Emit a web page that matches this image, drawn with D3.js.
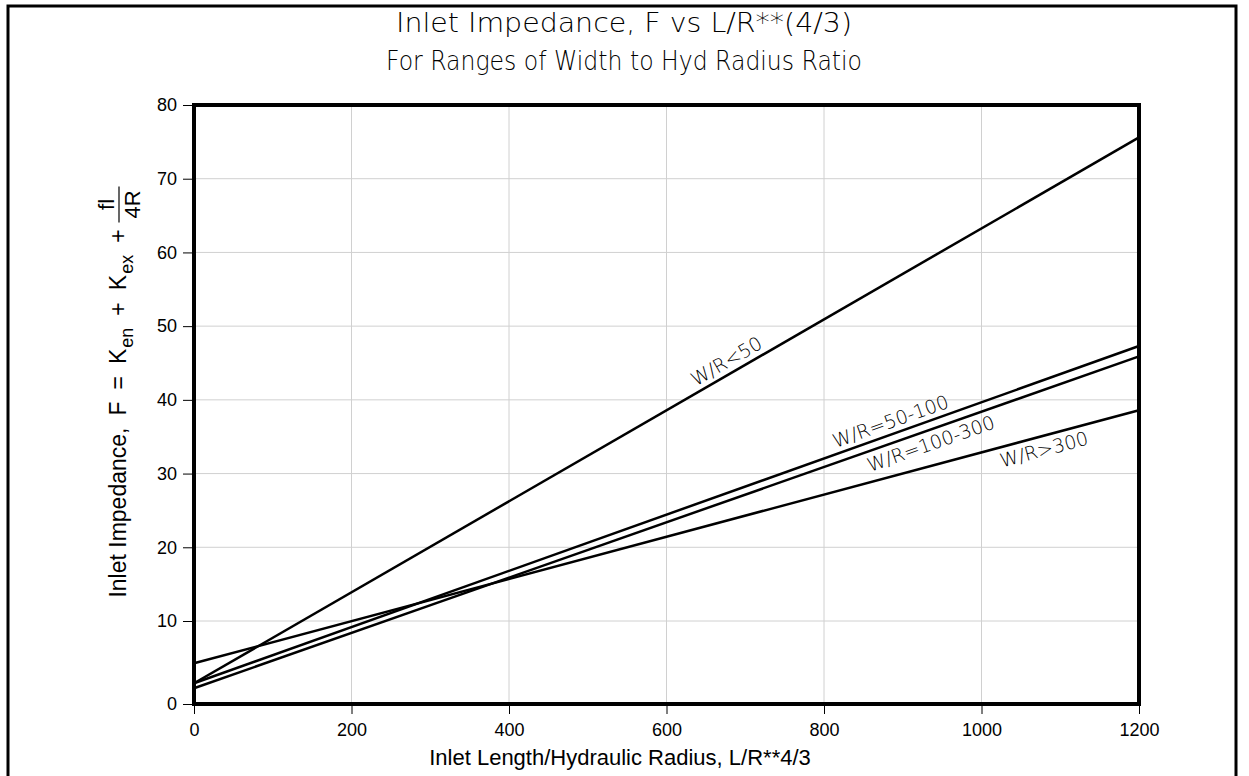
<!DOCTYPE html>
<html>
<head>
<meta charset="utf-8">
<script src="https://cdn.jsdelivr.net/npm/d3@7"></script>
<style>
  body { margin: 0; background: #fff; }
  svg { display: block; }
  text { font-family: "Liberation Sans", Arial, sans-serif; fill: #000; }
  .thin { font-family: "DejaVu Sans", "Liberation Sans", sans-serif; font-weight: 200; }
</style>
</head>
<body>
<svg id="chart" width="1249" height="776"></svg>
<script>
// Axis ticks
const xTicks = [0, 200, 400, 600, 800, 1000, 1200];
const yTicks = [0, 10, 20, 30, 40, 50, 60, 70, 80];

// Inlet length / hydraulic radius at the two ends of each straight line
const lengthRatio = [0, 1200];

// Inlet impedance F for each width-to-hydraulic-radius range
const seriesNames = ["W/R<50", "W/R=50-100", "W/R=100-300", "W/R>300"];
const impedanceBelow50 = [2.5, 75.6];
const impedance50to100 = [2.5, 47.3];
const impedance100to300 = [1.9, 45.9];
const impedanceAbove300 = [4.9, 38.6];

const series = [impedanceBelow50, impedance50to100, impedance100to300, impedanceAbove300]
  .map((vals, i) => ({ name: seriesNames[i], pts: lengthRatio.map((x, j) => [x, vals[j]]) }));

// Where each line's label sits (along the x axis) and on which side of the line
const labelPlacement = [
  { at: 684, side: -1 },
  { at: 890, side: -1 },
  { at: 930, side: 1 },
  { at: 1075, side: 1 }
];

const svg = d3.select("#chart");
const plot = { left: 194, right: 1139, top: 105, bottom: 704 };

const x = d3.scaleLinear().domain([0, 1200]).range([plot.left, plot.right]);
// the zero tick sits a little below the regular spacing of the other ticks
const y = d3.scaleLinear().domain([0, 10, 80]).range([704, 621, plot.top]);

// outer frame
svg.append("rect")
  .attr("x", 8).attr("y", 6).attr("width", 1228).attr("height", 790)
  .attr("fill", "none").attr("stroke", "#000").attr("stroke-width", 3);

// titles
svg.append("text").attr("class", "thin").attr("x", 624).attr("y", 32).attr("text-anchor", "middle")
  .attr("textLength", 456).attr("lengthAdjust", "spacingAndGlyphs")
  .style("font-size", "26px").text("Inlet Impedance, F vs L/R**(4/3)");
svg.append("text").attr("class", "thin").attr("x", 624).attr("y", 70).attr("text-anchor", "middle")
  .attr("textLength", 476).attr("lengthAdjust", "spacingAndGlyphs")
  .style("font-size", "26px").text("For Ranges of Width to Hyd Radius Ratio");

// grid
const grid = svg.append("g").attr("stroke", "#d0d0d0").attr("stroke-width", 1);
grid.selectAll("line.gx").data(xTicks.slice(1, -1)).join("line")
  .attr("x1", d => x(d)).attr("x2", d => x(d))
  .attr("y1", plot.top).attr("y2", plot.bottom);
grid.selectAll("line.gy").data(yTicks.slice(1, -1)).join("line")
  .attr("y1", d => y(d)).attr("y2", d => y(d))
  .attr("x1", plot.left).attr("x2", plot.right);

// axes
const xAxis = d3.axisBottom(x).tickValues(xTicks).tickSize(10).tickPadding(9).tickFormat(d3.format("d"));
const gx = svg.append("g").attr("transform", `translate(0,${plot.bottom})`).call(xAxis);
gx.select(".domain").remove();
gx.selectAll(".tick line").attr("stroke", "#000").attr("stroke-width", 1);
gx.selectAll(".tick text").style("font-size", "18px").style("font-family", null).attr("fill", "#000");

const yAxis = d3.axisLeft(y).tickValues(yTicks).tickSize(11).tickPadding(6).tickFormat(d3.format("d"));
const gy = svg.append("g").attr("transform", `translate(${plot.left},0)`).call(yAxis);
gy.select(".domain").remove();
gy.selectAll(".tick line").attr("stroke", "#000").attr("stroke-width", 1);
gy.selectAll(".tick text").style("font-size", "18px").style("font-family", null).attr("fill", "#000");

// series lines
const line = d3.line().x(d => x(d[0])).y(d => y(d[1]));
svg.append("g").selectAll("path").data(series).join("path")
  .attr("d", d => line(d.pts))
  .attr("fill", "none").attr("stroke", "#000").attr("stroke-width", 2.5);

// line labels, rotated along each line
series.forEach((s, i) => {
  const p0 = [x(s.pts[0][0]), y(s.pts[0][1])];
  const p1 = [x(s.pts[1][0]), y(s.pts[1][1])];
  const t = (labelPlacement[i].at - s.pts[0][0]) / (s.pts[1][0] - s.pts[0][0]);
  const px = p0[0] + t * (p1[0] - p0[0]);
  const py = p0[1] + t * (p1[1] - p0[1]);
  const ang = Math.atan2(p1[1] - p0[1], p1[0] - p0[0]) * 180 / Math.PI;
  svg.append("text").attr("class", "thin")
    .attr("transform", `translate(${px},${py}) rotate(${ang})`)
    .attr("text-anchor", "middle")
    .attr("dy", labelPlacement[i].side < 0 ? -6 : 20)
    .style("font-size", "19px")
    .text(s.name);
});

// plot frame
svg.append("rect")
  .attr("x", plot.left).attr("y", plot.top)
  .attr("width", plot.right - plot.left).attr("height", plot.bottom - plot.top)
  .attr("fill", "none").attr("stroke", "#000").attr("stroke-width", 4);

// x axis title
svg.append("text").attr("x", 620).attr("y", 765).attr("text-anchor", "middle")
  .style("font-size", "22px").text("Inlet Length/Hydraulic Radius, L/R**4/3");

// y axis title with subscripts and the fl/4R fraction
const yt = svg.append("g");
const main = yt.append("text").style("font-size", "23px");
main.append("tspan").text("Inlet  Impedance,");
main.append("tspan").attr("dx", 12).text("F");
main.append("tspan").attr("dx", 12).text("=");
main.append("tspan").attr("dx", 12).text("K");
main.append("tspan").attr("dy", 7).attr("dx", 1).style("font-size", "18px").text("en");
main.append("tspan").attr("dy", -7).attr("dx", 12).text("+");
main.append("tspan").attr("dx", 12).text("K");
main.append("tspan").attr("dy", 7).attr("dx", 1).style("font-size", "18px").text("ex");
main.append("tspan").attr("dy", -7).attr("dx", 12).text("+");
const mainLen = main.node().getBBox().width;
const fracW = 36;
const fracGap = 7;
const fx = mainLen + fracGap + fracW / 2;
yt.append("text").attr("x", fx).attr("y", -12).attr("text-anchor", "middle")
  .style("font-size", "22px").text("fl");
yt.append("text").attr("x", fx).attr("y", 14).attr("text-anchor", "middle")
  .style("font-size", "22px").text("4R");
yt.append("line").attr("x1", mainLen + fracGap).attr("x2", mainLen + fracGap + fracW)
  .attr("y1", -7).attr("y2", -7).attr("stroke", "#000").attr("stroke-width", 1.2);
const totalLen = mainLen + fracGap + fracW;
yt.attr("transform", `translate(126,${392 + totalLen / 2}) rotate(-90)`);
</script>
</body>
</html>
